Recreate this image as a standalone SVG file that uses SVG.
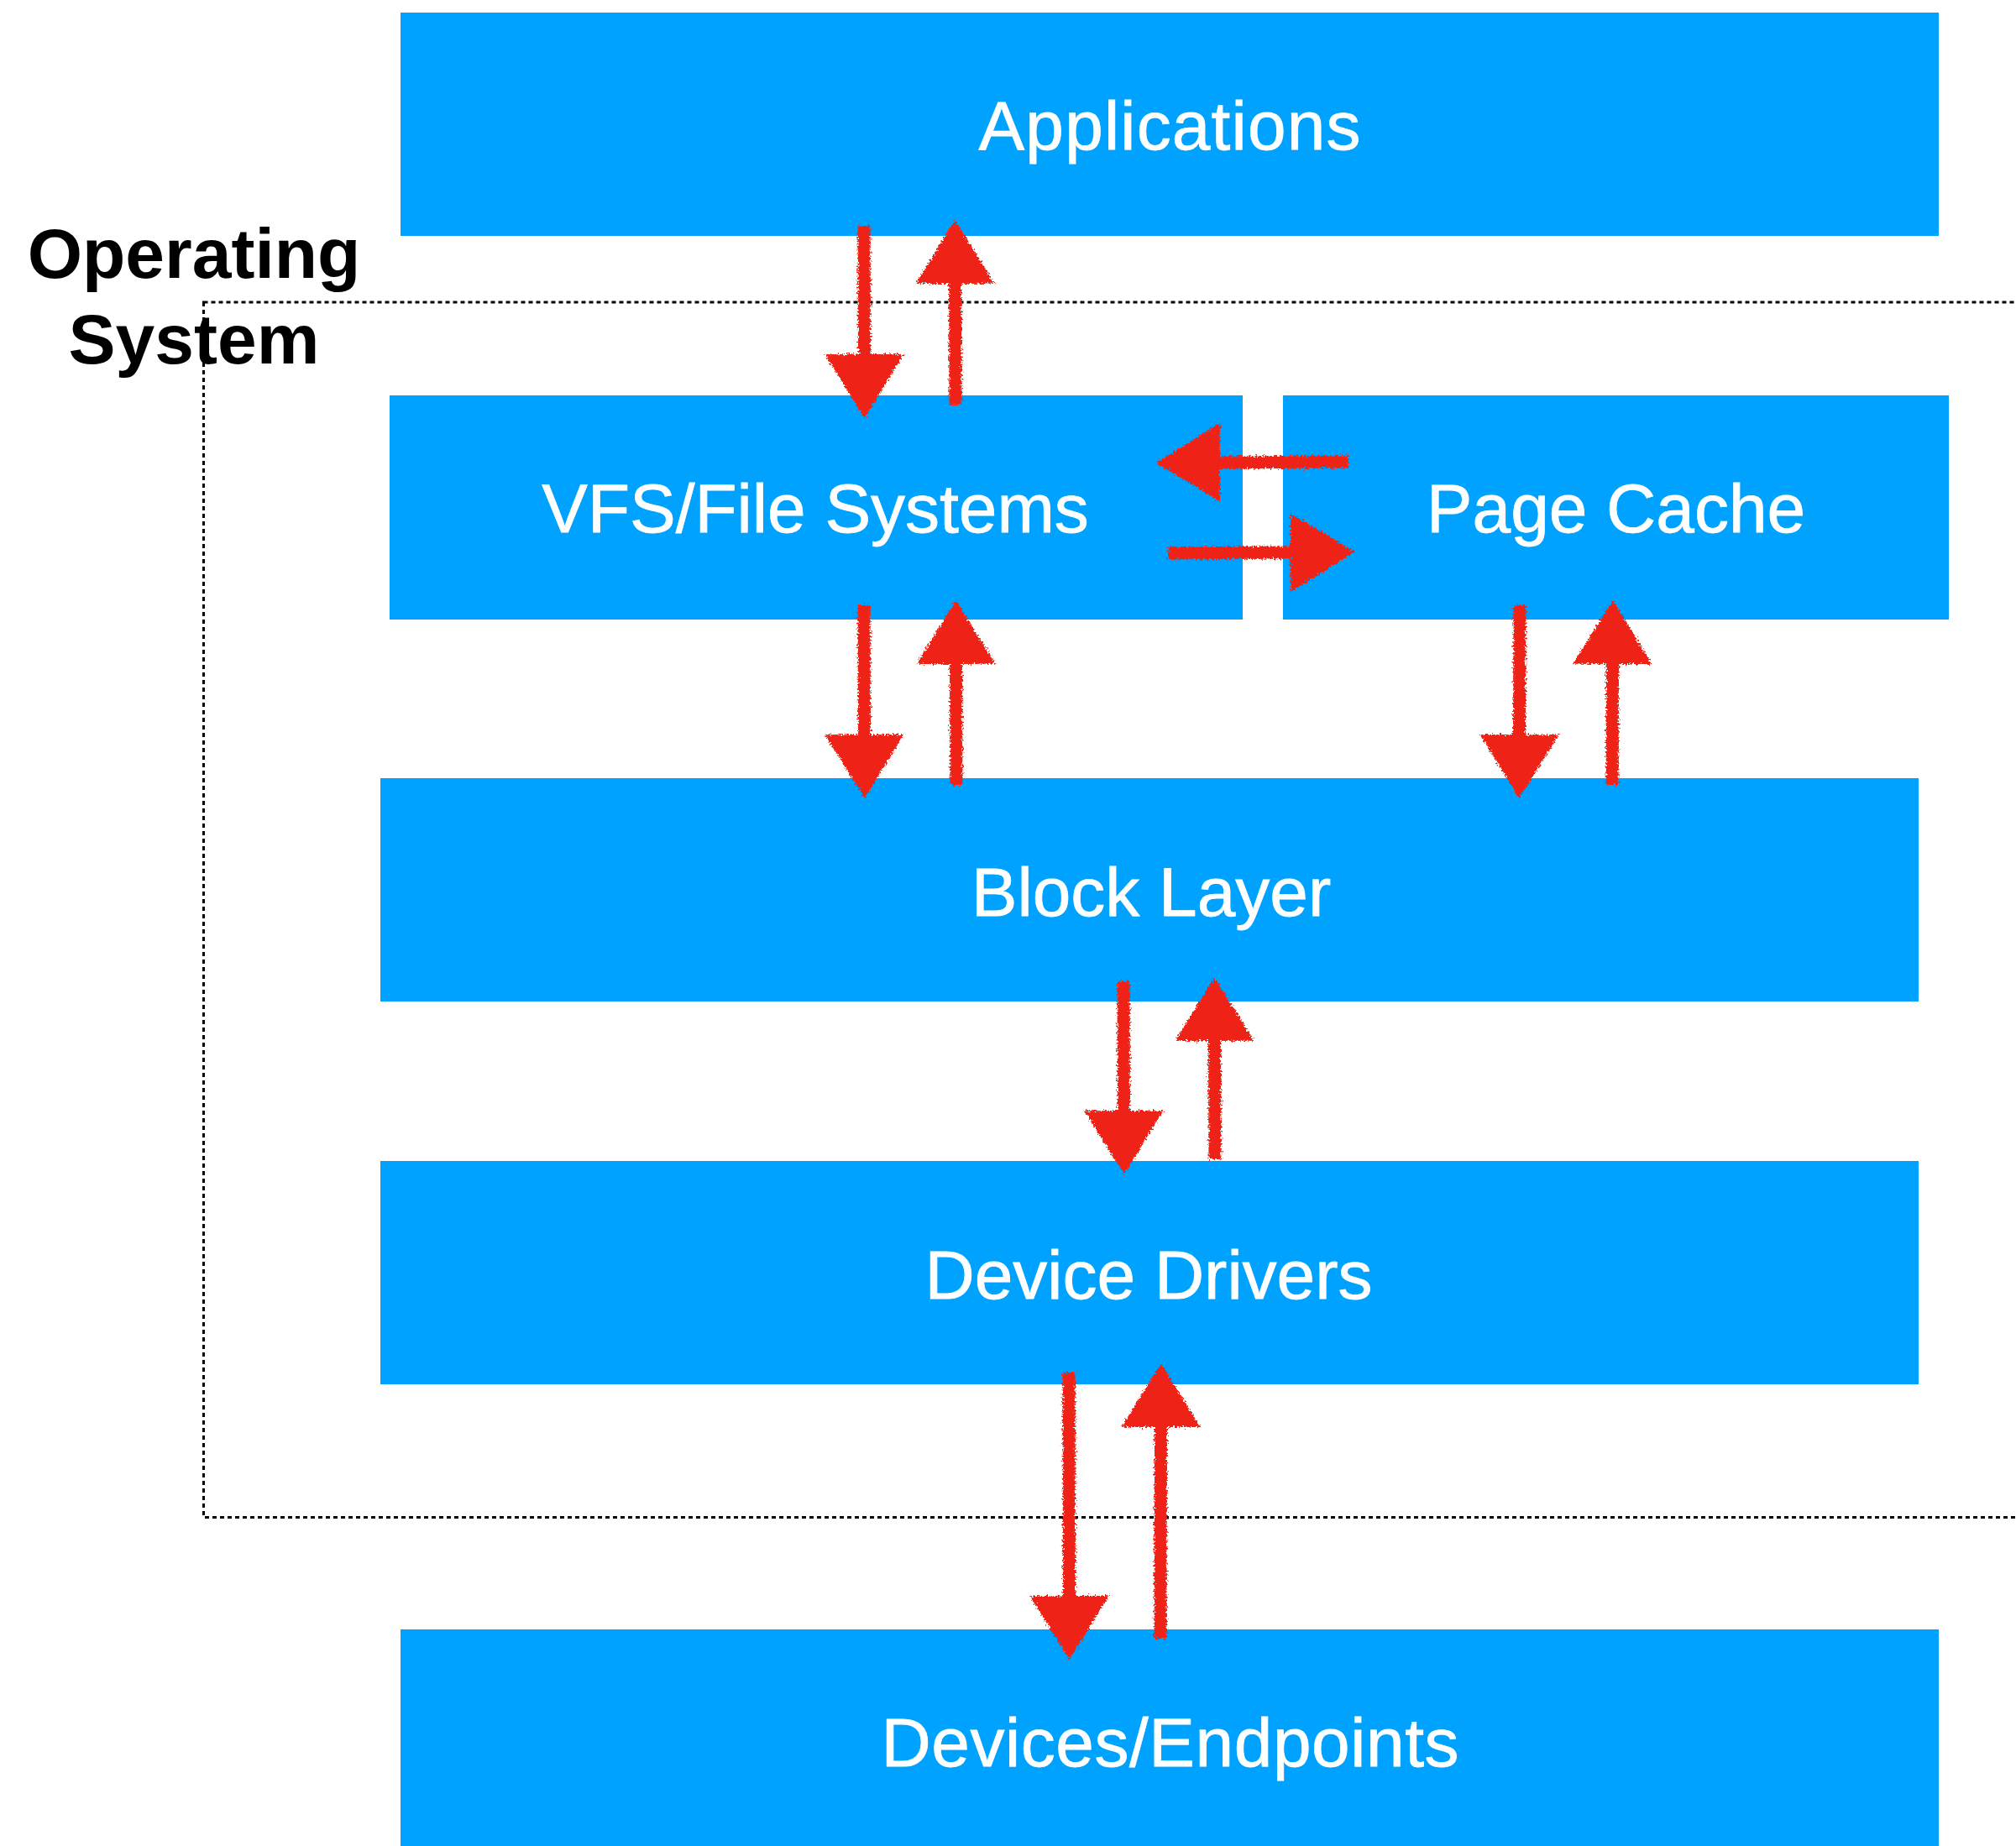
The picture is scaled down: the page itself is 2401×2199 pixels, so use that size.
<svg xmlns="http://www.w3.org/2000/svg" width="2401" height="2199" viewBox="0 0 2401 2199">
  <style>
    .layer { fill: #00A2FF; }
    .label { fill: #FFFFFF; stroke: #FFFFFF; stroke-width: 0.8; font-family: "Liberation Sans", Arial, sans-serif; font-size: 82px; text-anchor: middle; }
    .os-title { fill: #000000; font-family: "Liberation Sans", Arial, sans-serif; font-weight: bold; font-size: 84px; text-anchor: middle; }
    .boundary { fill: none; stroke: #000000; stroke-width: 3; stroke-dasharray: 5 4; }
    .flow { fill: none; stroke: #EE2312; stroke-width: 15; stroke-linecap: butt; marker-end: url(#head); }
  </style>
  <defs>
    <!-- filled triangular arrowhead, 76 long and 94 wide, starting at the end of the shaft -->
    <marker id="head" viewBox="0 0 76 94" refX="2" refY="47" markerWidth="76" markerHeight="94" markerUnits="userSpaceOnUse" orient="auto">
      <path d="M0,0 L76,47 L0,94 Z" fill="#EE2312"/>
    </marker>
    <!-- rough crayon edge for the hand-drawn arrows -->
    <filter id="crayon" x="-10%" y="-10%" width="120%" height="120%">
      <feTurbulence type="fractalNoise" baseFrequency="0.45" numOctaves="2" seed="7" result="noise"/>
      <feDisplacementMap in="SourceGraphic" in2="noise" scale="8" xChannelSelector="R" yChannelSelector="G"/>
    </filter>
  </defs>

  <rect width="2401" height="2199" fill="#FFFFFF"/>

  <!-- operating system boundary (open to the right) -->
  <g id="operating-system">
    <rect class="boundary" x="242.5" y="360" width="2200" height="1447.5"/>
    <text class="os-title" x="231" y="331">Operating</text>
    <text class="os-title" x="231" y="433">System</text>
  </g>

  <g id="applications">
    <rect class="layer" x="477" y="15" width="1832" height="266"/>
    <text class="label" x="1393" y="178" textLength="455">Applications</text>
  </g>

  <g id="vfs">
    <rect class="layer" x="464" y="471" width="1016" height="267"/>
    <text class="label" x="971" y="634">VFS/File Systems</text>
  </g>

  <g id="page-cache">
    <rect class="layer" x="1528" y="471" width="793" height="267"/>
    <text class="label" x="1924.5" y="634">Page Cache</text>
  </g>

  <g id="block-layer">
    <rect class="layer" x="453" y="927" width="1832" height="266"/>
    <text class="label" x="1371" y="1091">Block Layer</text>
  </g>

  <g id="device-drivers">
    <rect class="layer" x="453" y="1383" width="1832" height="266"/>
    <text class="label" x="1368" y="1547">Device Drivers</text>
  </g>

  <g id="devices">
    <rect class="layer" x="477" y="1941" width="1832" height="266"/>
    <text class="label" x="1393.5" y="2104" textLength="688">Devices/Endpoints</text>
  </g>

  <!-- request / response flows between layers -->
  <g id="connectors" filter="url(#crayon)">
    <path class="flow" d="M1029,269 L1029.5,424"/>
    <path class="flow" d="M1138,482 L1137.5,336"/>
    <path class="flow" d="M1606,550 L1451,551"/>
    <path class="flow" d="M1391,659 L1539,658"/>
    <path class="flow" d="M1029,721 L1029.5,877"/>
    <path class="flow" d="M1139,935 L1138.5,789"/>
    <path class="flow" d="M1810,721 L1809.5,877"/>
    <path class="flow" d="M1920,935 L1920.5,789"/>
    <path class="flow" d="M1338,1169 L1338.5,1325"/>
    <path class="flow" d="M1447,1381 L1446.5,1238"/>
    <path class="flow" d="M1273,1635 L1273.5,1903"/>
    <path class="flow" d="M1382,1952 L1382.5,1698"/>
  </g>
</svg>
